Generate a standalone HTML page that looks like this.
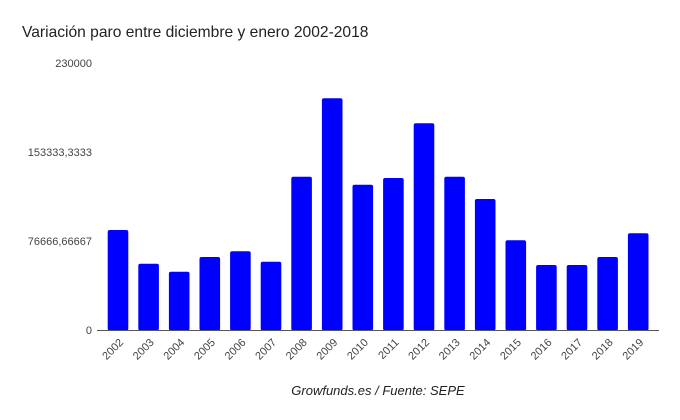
<!DOCTYPE html>
<html><head><meta charset="utf-8"><style>
body{margin:0;background:#fff;}
svg{display:block;font-family:"Liberation Sans",Arial,sans-serif;}
</style></head><body>
<svg width="680" height="420" viewBox="0 0 680 420">
<rect width="680" height="420" fill="#fff"/>
<text x="22" y="37" font-size="15.6" fill="#222">Variación paro entre diciembre y enero 2002-2018</text>
<g font-size="11" fill="#444" text-anchor="end">
<text x="92" y="67">230000</text>
<text x="92" y="156">153333,3333</text>
<text x="92" y="245">76666,66667</text>
<text x="92" y="334">0</text>
</g>
<g fill="#0000ff">
<rect x="107.7" y="230" width="20.6" height="100.5" rx="2"/>
<rect x="138.3" y="263.7" width="20.6" height="66.8" rx="2"/>
<rect x="168.9" y="271.7" width="20.6" height="58.8" rx="2"/>
<rect x="199.5" y="257" width="20.6" height="73.5" rx="2"/>
<rect x="230.1" y="251.3" width="20.6" height="79.2" rx="2"/>
<rect x="260.7" y="261.7" width="20.6" height="68.8" rx="2"/>
<rect x="291.3" y="176.7" width="20.6" height="153.8" rx="2"/>
<rect x="321.9" y="98.3" width="20.6" height="232.2" rx="2"/>
<rect x="352.5" y="184.7" width="20.6" height="145.8" rx="2"/>
<rect x="383.1" y="178" width="20.6" height="152.5" rx="2"/>
<rect x="413.7" y="123.3" width="20.6" height="207.2" rx="2"/>
<rect x="444.3" y="176.7" width="20.6" height="153.8" rx="2"/>
<rect x="474.9" y="199" width="20.6" height="131.5" rx="2"/>
<rect x="505.5" y="240.3" width="20.6" height="90.2" rx="2"/>
<rect x="536.1" y="265" width="20.6" height="65.5" rx="2"/>
<rect x="566.7" y="265" width="20.6" height="65.5" rx="2"/>
<rect x="597.3" y="257" width="20.6" height="73.5" rx="2"/>
<rect x="627.9" y="233.3" width="20.6" height="97.2" rx="2"/>
</g>
<line x1="97" y1="330.5" x2="659" y2="330.5" stroke="#555" stroke-width="1"/>
<g font-size="11" fill="#444" text-anchor="end">
<text transform="translate(124,343) rotate(-45)">2002</text>
<text transform="translate(154.6,343) rotate(-45)">2003</text>
<text transform="translate(185.2,343) rotate(-45)">2004</text>
<text transform="translate(215.8,343) rotate(-45)">2005</text>
<text transform="translate(246.4,343) rotate(-45)">2006</text>
<text transform="translate(277,343) rotate(-45)">2007</text>
<text transform="translate(307.6,343) rotate(-45)">2008</text>
<text transform="translate(338.2,343) rotate(-45)">2009</text>
<text transform="translate(368.8,343) rotate(-45)">2010</text>
<text transform="translate(399.4,343) rotate(-45)">2011</text>
<text transform="translate(430,343) rotate(-45)">2012</text>
<text transform="translate(460.6,343) rotate(-45)">2013</text>
<text transform="translate(491.2,343) rotate(-45)">2014</text>
<text transform="translate(521.8,343) rotate(-45)">2015</text>
<text transform="translate(552.4,343) rotate(-45)">2016</text>
<text transform="translate(583,343) rotate(-45)">2017</text>
<text transform="translate(613.6,343) rotate(-45)">2018</text>
<text transform="translate(644.2,343) rotate(-45)">2019</text>
</g>
<text x="378" y="395" font-size="13" font-style="italic" fill="#222" text-anchor="middle">Growfunds.es / Fuente: SEPE</text>
</svg>
</body></html>
